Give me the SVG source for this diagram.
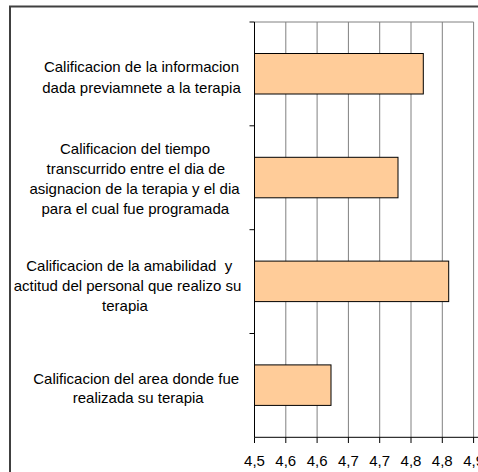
<svg xmlns="http://www.w3.org/2000/svg" width="478" height="472" viewBox="0 0 478 472">
<style>
text { font-family: "Liberation Sans", Arial, sans-serif; font-size: 15px; fill: #000; }
.lbl { text-anchor: middle; white-space: pre; }
.tick { text-anchor: middle; }
.grid { stroke: #808080; stroke-width: 1; fill: none; }
.axis { stroke: #000; stroke-width: 1; fill: none; }
.bar { fill: #FFCC99; stroke: #000; stroke-width: 1; }
</style>
<rect x="0" y="0" width="478" height="472" fill="#fff"/>
<rect id="frame" x="10" y="6.5" width="480" height="480" fill="#fff" stroke="#404040" stroke-width="2"/>
<g id="grid">
  <line class="grid" x1="254.5" y1="22" x2="473.6" y2="22"/>
  <line class="grid" x1="285.8" y1="22" x2="285.8" y2="437.3"/>
  <line class="grid" x1="317.1" y1="22" x2="317.1" y2="437.3"/>
  <line class="grid" x1="348.4" y1="22" x2="348.4" y2="437.3"/>
  <line class="grid" x1="379.7" y1="22" x2="379.7" y2="437.3"/>
  <line class="grid" x1="411" y1="22" x2="411" y2="437.3"/>
  <line class="grid" x1="442.3" y1="22" x2="442.3" y2="437.3"/>
  <line class="grid" x1="473.6" y1="22" x2="473.6" y2="437.3"/>
</g>
<g id="bar1"><rect class="bar" x="254.5" y="53.5" width="168.8" height="40.5"/></g>
<g id="bar2"><rect class="bar" x="254.5" y="157.3" width="143.5" height="40.5"/></g>
<g id="bar3"><rect class="bar" x="254.5" y="261.1" width="194.2" height="40.5"/></g>
<g id="bar4"><rect class="bar" x="254.5" y="364.9" width="76.5" height="40.5"/></g>
<g id="axes">
  <line class="axis" x1="254.5" y1="22" x2="254.5" y2="437.3"/>
  <line class="axis" x1="254.5" y1="437.3" x2="478" y2="437.3"/>
  <line class="axis" x1="249.5" y1="22" x2="254.5" y2="22"/>
  <line class="axis" x1="249.5" y1="125.8" x2="254.5" y2="125.8"/>
  <line class="axis" x1="249.5" y1="229.7" x2="254.5" y2="229.7"/>
  <line class="axis" x1="249.5" y1="333.5" x2="254.5" y2="333.5"/>
  <line class="axis" x1="254.5" y1="437.3" x2="254.5" y2="443"/>
  <line class="axis" x1="285.8" y1="437.3" x2="285.8" y2="443"/>
  <line class="axis" x1="317.1" y1="437.3" x2="317.1" y2="443"/>
  <line class="axis" x1="348.4" y1="437.3" x2="348.4" y2="443"/>
  <line class="axis" x1="379.7" y1="437.3" x2="379.7" y2="443"/>
  <line class="axis" x1="411" y1="437.3" x2="411" y2="443"/>
  <line class="axis" x1="442.3" y1="437.3" x2="442.3" y2="443"/>
  <line class="axis" x1="473.6" y1="437.3" x2="473.6" y2="443"/>
</g>
<g id="xlabels">
  <text class="tick" x="254.5" y="466">4,5</text>
  <text class="tick" x="285.8" y="466">4,6</text>
  <text class="tick" x="317.1" y="466">4,6</text>
  <text class="tick" x="348.4" y="466">4,7</text>
  <text class="tick" x="379.7" y="466">4,7</text>
  <text class="tick" x="411" y="466">4,8</text>
  <text class="tick" x="442.3" y="466">4,8</text>
  <text class="tick" x="473.6" y="466">4,9</text>
</g>
<g id="label1">
  <text class="lbl" x="141.5" y="72.3">Calificacion de la informacion</text>
  <text class="lbl" x="141.5" y="92.7">dada previamnete a la terapia</text>
</g>
<g id="label2">
  <text class="lbl" x="135" y="154">Calificacion del tiempo</text>
  <text class="lbl" x="135.8" y="174">transcurrido entre el dia de</text>
  <text class="lbl" x="134.5" y="194.3">asignacion de la terapia y el dia</text>
  <text class="lbl" x="135.3" y="214.3">para el cual fue programada</text>
</g>
<g id="label3">
  <text class="lbl" x="129.2" y="270.7">Calificacion de la amabilidad  y</text>
  <text class="lbl" x="127.5" y="290.7">actitud del personal que realizo su</text>
  <text class="lbl" x="125" y="310.5">terapia</text>
</g>
<g id="label4">
  <text class="lbl" x="136.2" y="384">Calificacion del area donde fue</text>
  <text class="lbl" x="138.2" y="403.3">realizada su terapia</text>
</g>
</svg>
